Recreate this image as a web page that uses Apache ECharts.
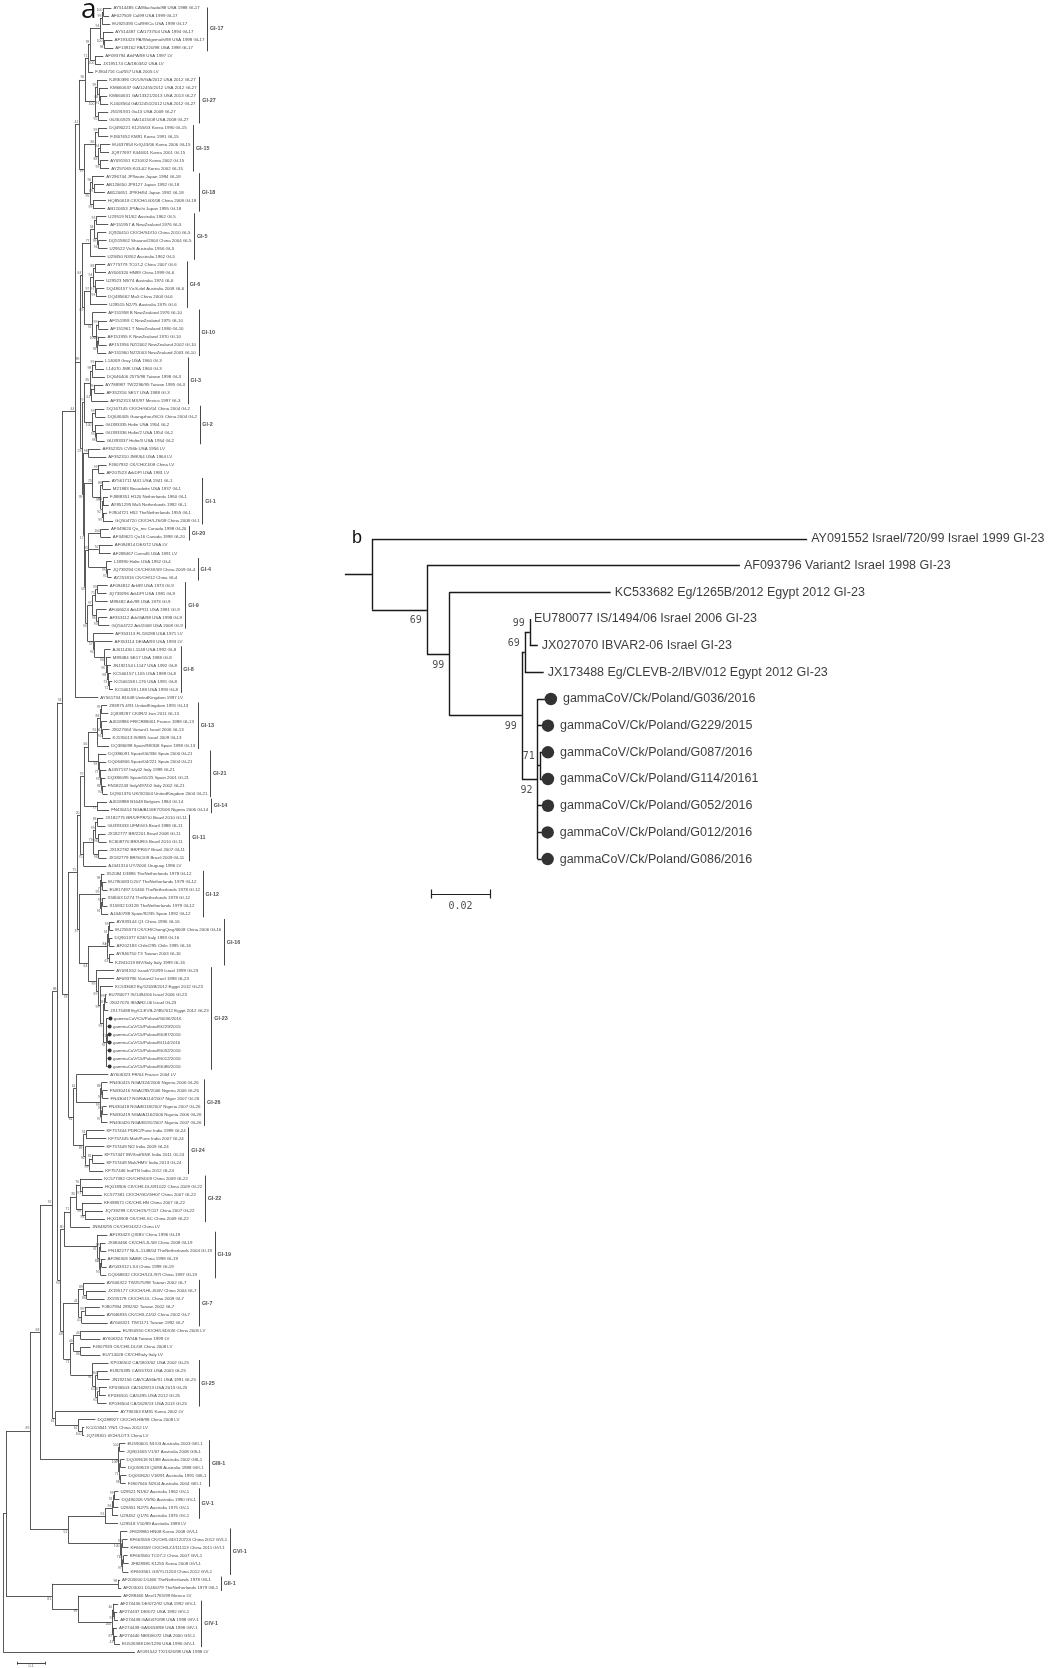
<!DOCTYPE html>
<html><head><meta charset="utf-8">
<script src="https://cdn.jsdelivr.net/npm/echarts@6/dist/echarts.min.js"></script>
<style>html,body{margin:0;padding:0;background:#fff}#c{width:1050px;height:1668px}</style>
</head><body><div id="c"></div>
<script>
// ---------------- DATA : panel a ----------------
const leafLabelsA = [
'AY514485 CA/Machado/88 USA 1988 GI-17','AF027509 Cal99 USA 1999 GI-17','EU925393 Cal/99/Ca USA 1999 GI-17','AY514487 CA/1737/04 USA 1994 GI-17','AF193423 PA/Wolgemuth/98 USA 1998 GI-17','AF139162 PA/1220/98 USA 1998 GI-17',
'AF093794 ArkPA/98 USA 1997 LV','JX195174 CA/1803/02 USA LV','FJ904716 Cal/557 USA 2005 LV',
'KJ830396 CK/US/GA/2012 USA 2012 GI-27','KM660637 GA/12455/2012 USA 2012 GI-27','KM660631 GA/13321/2013 USA 2013 GI-27','KJ403564 GA/12451/2012 USA 2012 GI-27','JN191931 Ga13 USA 2009 GI-27','GU301925 GA/1015/08 USA 2008 GI-27',
'DQ490221 K1255/03 Korea 1990 GI-15','FJ807652 KM91 Korea 1991 GI-15','EU637854 Kr/Q43/06 Korea 2006 GI-15','JQ977697 K446/01 Korea 2001 GI-15','AY091551 K210/02 Korea 2002 GI-15','AY257065 K03-02 Korea 2002 GI-15',
'AY296744 JP/Iwate Japan 1994 GI-18','AB120650 JP8127 Japan 1992 GI-18','AB120651 JP/KH/64 Japan 1992 GI-18','HQ850618 CK/CH/LGX/08 China 2008 GI-18','AB120653 JP/Aichi Japan 1995 GI-18',
'U29519 N1/62 Australia 1962 GI-5','AF151957 A NewZealand 1976 GI-5','JQ920410 CK/CH/SD/10 China 2010 GI-5','DQ515802 Shaanxi/2004 China 2004 GI-5','U29522 VicS Australia 1956 GI-5','U29450 N3/62 Australia 1962 GI-5',
'AY775779 TC07-2 China 2007 GI-6','AY606320 HN99 China 1999 GI-6','U29523 N9/74 Australia 1974 GI-6','DQ480157 VicS-del Australia 2008 GI-6','DQ485662 Ma5 China 2004 GI-6','U29515 N2/75 Australia 1975 GI-6',
'AF151958 B NewZealand 1976 GI-10','AF151959 C NewZealand 1975 GI-10','AF151961 T NewZealand 1980 GI-10','AF151955 K NewZealand 1970 GI-10','AF151956 NZ/2002 NewZealand 2002 GI-10','AF151960 NZ/2003 NewZealand 2003 GI-10',
'L14069 Gray USA 1960 GI-3','L14070 JMK USA 1964 GI-3','DQ646406 2575/98 Taiwan 1998 GI-3','AY788987 TW2296/95 Taiwan 1995 GI-3','AF352316 SE17 USA 1988 GI-3','AF352313 MX/97 Mexico 1997 GI-3',
'DQ167145 CK/CH/GD/04 China 2004 GI-2','DQ646405 Guangzhou/SCG China 2004 GI-2','GU393335 Holte USA 1954 GI-2','GU393336 Holte/2 USA 1954 GI-2','GU393337 Holte/3 USA 1954 GI-2',
'AF352315 CV56b USA 1956 LV','AF352310 JMK/64 USA 1964 LV','FJ807932 CK/CH/ZJ/08 China LV','AF207523 ArkDPI USA 1981 LV',
'AY561711 M41 USA 1941 GI-1','M21883 Beaudette USA 1937 GI-1','FJ888351 H120 Netherlands 1960 GI-1','AY851295 Ma5 Netherlands 1992 GI-1','FJ904721 H52 TheNetherlands 1955 GI-1','GQ504720 CK/CH/LJS/08 China 2008 GI-1',
'AF349620 Qu_mv Canada 1998 GI-20','AF349621 Qu16 Canada 1998 GI-20','AF094814 DE/072 USA LV','AF288467 Conn46 USA 1991 LV',
'L18990 Holte USA 1952 GI-4','JQ739294 CK/CH/GX/09 China 2009 GI-4','AY251816 CK/CH/12 China GI-4',
'AF094812 Ark99 USA 1973 GI-9','JQ739296 ArkDPI USA 1981 GI-9','M99482 Ark/99 USA 1973 GI-9','AF006624 ArkDPI11 USA 1981 GI-9','AF353112 Ark/GA/98 USA 1998 GI-9','GQ504722 Ark/2008 USA 2008 GI-9',
'AF353113 FL/18288 USA 1971 LV','AF353114 DE/AA/93 USA 1993 LV',
'AJ011430 L1148 USA 1992 GI-8','M99484 SE17 USA 1988 GI-8','JN192154 L1147 USA 1992 GI-8','KC506157 L165 USA 1989 GI-8','KC506158 L176 USA 1991 GI-8','KC506159 L188 USA 1993 GI-8',
'AY561734 B1648 UnitedKingdom 1997 LV',
'Z83975 4/91 UnitedKingdom 1991 GI-13','JQ839287 CK/IR/2 Iran 2011 GI-13','AJ618986 FR/CR88061 France 1988 GI-13','JX027064 Variant1 Israel 2006 GI-13','KJ135013 IS/885 Israel 2009 GI-13','DQ386098 Spain/98/308 Spain 1998 GI-13',
'DQ386091 Spain/00/336 Spain 2000 GI-21','DQ064806 Spain/04/221 Spain 2004 GI-21','AJ457137 Italy02 Italy 1999 GI-21','DQ386095 Spain/01/25 Spain 2001 GI-21','FN182243 Italy/497/02 Italy 2002 GI-21','DQ901376 UK/3/2004 UnitedKingdom 2004 GI-21',
'AJ618988 B1648 Belgium 1984 GI-14','FN430414 NGA/A116E7/2006 Nigeria 2006 GI-14',
'JX182775 BR/UFPR/10 Brazil 2010 GI-11','GU393333 UFMG/G Brazil 1988 GI-11','JX182777 BR/2201 Brazil 2008 GI-11','KC808770 BR/URG Brazil 2010 GI-11','JX182782 BR/PR/07 Brazil 2007 GI-11','JX182779 BR/SC/09 Brazil 2009 GI-11',
'AJ441310 UY/2006 Uruguay 1996 LV',
'X52084 D3896 TheNetherlands 1978 GI-12','EU780083 D207 TheNetherlands 1979 GI-12','EU817497 D1466 TheNetherlands 1978 GI-12','X58003 D274 TheNetherlands 1978 GI-12','X15832 D3128 TheNetherlands 1979 GI-12','AJ440788 Spain/92/35 Spain 1992 GI-12',
'AY839144 Q1 China 1996 GI-16','EU255573 CK/CH/ChongQing/0608 China 2006 GI-16','DQ901377 624/I Italy 1993 GI-16','AF202183 Chile/295 Chile 1995 GI-16','AY846750 T3 Taiwan 2003 GI-16','KJ941019 IBV/Italy Italy 1999 GI-16',
'AY091552 Israel/720/99 Israel 1999 GI-23','AF093796 Variant2 Israel 1998 GI-23','KC533682 Eg/1265B/2012 Egypt 2012 GI-23','EU780077 IS/1494/06 Israel 2006 GI-23','JX027070 IBVAR2-06 Israel GI-23','JX173488 Eg/CLEVB-2/IBV/012 Egypt 2012 GI-23',
'gammaCoV/Ck/Poland/G036/2016','gammaCoV/Ck/Poland/G229/2015','gammaCoV/Ck/Poland/G087/2016','gammaCoV/Ck/Poland/G114/2016','gammaCoV/Ck/Poland/G052/2016','gammaCoV/Ck/Poland/G012/2016','gammaCoV/Ck/Poland/G086/2016',
'AY606323 FR/04 France 2004 LV',
'FN430415 NGA/324/2006 Nigeria 2006 GI-26','FN430416 NGA/295/2006 Nigeria 2006 GI-26','FN430417 NGR/A114/2007 Niger 2007 GI-26','FN430418 NGA/B118/2007 Nigeria 2007 GI-26','FN430419 NGA/A116/2006 Nigeria 2006 GI-26','FN430420 NGA/B191/2007 Nigeria 2007 GI-26',
'KF757444 PDRC/Pune India 1999 GI-24','KF757445 Mah/Pune India 2007 GI-24','KF757449 N/2 India 2009 GI-24','KF757447 IBV/Ind/SNK India 2011 GI-24','KF757448 Mah/HMV India 2013 GI-24','KF757446 Ind/TN India 2012 GI-24',
'KC577382 CK/CH/SD09 China 2009 GI-22','HQ018906 CK/CH/LDL/091022 China 2009 GI-22','KC577381 CK/CH/GD/GH07 China 2007 GI-22','KF498571 CK/CH/LHN China 2007 GI-22','JQ739299 CK/CH/JS/TC07 China 2007 GI-22','HQ018908 CK/CH/LSC China 2009 GI-22',
'JN848295 CK/CH/GD/ZJ China LV',
'AF193423 QXIBV China 1996 GI-19','JX084466 CK/CH/LJL/08 China 2008 GI-19','FN182277 NL/L-1148/04 TheNetherlands 2004 GI-19','AF286303 SAIBK China 1998 GI-19','AY043312 LX4 China 1999 GI-19','DQ068832 CK/CH/LDL/97I China 1997 GI-19',
'AY606322 TW2575/98 Taiwan 2002 GI-7','JX195177 CK/CH/LHLJ/04V China 2004 GI-7','JX195178 CK/CH/LDL China 2009 GI-7','FJ807934 2992/02 Taiwan 2002 GI-7','AY846835 CK/CH/LZJ/02 China 2002 GI-7','AY606321 TW/1171 Taiwan 1992 GI-7',
'EU350550 CK/CH/LSD/05I China 2005 LV','AY606324 TW/4A Taiwan 1999 LV','FJ807933 CK/CH/LDL/08 China 2008 LV','EU714028 CK/CH/Italy Italy LV',
'KP036502 CA/1803/02 USA 2002 GI-25','EU925395 CA/557/03 USA 2003 GI-25','JN192156 CAV/CA56b/91 USA 1991 GI-25','KP036503 CA/1628/13 USA 2013 GI-25','KP036501 CA/1495 USA 2012 GI-25','KP036504 CA/1628/13 USA 2013 GI-25',
'AY790363 KM91 Korea 2002 LV','DQ288927 CK/CH/LHB/98 China 2008 LV','KC013541 YN/1 China 2012 LV','JQ739301 tl/CH/LDT3 China LV',
'EU590601 N1/03 Australia 2003 GIII-1','JQ801665 V1/07 Australia 2008 GIII-1','DQ059618 N1/88 Australia 2002 GIII-1','DQ059619 Q3/88 Australia 1988 GIII-1','DQ059620 V18/91 Australia 1991 GIII-1','FJ807640 N2/04 Australia 2004 GIII-1',
'U29521 N1/62 Australia 1962 GV-1','DQ490205 V5/90 Australia 1990 GV-1','U29451 N2/75 Australia 1975 GV-1','U29452 Q1/76 Australia 1976 GV-1','U29518 V10/89 Australia 1989 LV',
'JF828980 HN08 Korea 2008 GVI-1','KF663558 CK/CH/LGD/120724 China 2012 GVI-1','KF663559 CK/CH/LZJ/111113 China 2011 GVI-1','KF663560 TC07-2 China 2007 GVI-1','JF828981 K1255 Korea 2008 GVI-1','KF663561 GX/YL/1203 China 2012 GVI-1',
'AF203000 D1466 TheNetherlands 1978 GII-1','AF203001 D1466/79 TheNetherlands 1979 GII-1','AF288466 Mex/1765/99 Mexico LV',
'AF274436 DE/072/92 USA 1992 GIV-1','AF274437 DE/072 USA 1992 GIV-1','AF274438 GA/0470/98 USA 1998 GIV-1','AF274439 GA/0658/98 USA 1998 GIV-1','AF274440 NE/DE072 USA 2000 GIV-1','EU526388 DE/1290 USA 1996 GIV-1',
'AY091542 TX/1326/98 USA 1998 LV'
];
const cladeNames = ['GI-17','GI-27','GI-15','GI-18','GI-5','GI-6','GI-10','GI-3','GI-2','GI-1','GI-20','GI-4','GI-9','GI-8','GI-13','GI-21','GI-14','GI-11','GI-12','GI-16','GI-23','GI-26','GI-24','GI-22','GI-19','GI-7','GI-25','GIII-1','GV-1','GVI-1','GII-1','GIV-1'];
const cladeFirst = [1,10,16,22,27,33,39,45,51,60,66,70,73,81,88,94,100,102,109,115,121,135,141,147,154,160,170,180,186,191,197,200];
const cladeLast  = [6,15,21,26,32,38,44,50,55,65,67,72,78,86,93,99,101,107,114,120,133,140,146,152,159,165,175,185,189,196,198,205];

// clade subtrees (Newick, leaf numbers refer to leafLabelsA, substitutions/site)
const GI17 = "(((1:0.029,2:0.021)100:0.004,3:0.029)99:0.007,(4:0.036,(5:0.029,6:0.032)98:0.004)100:0.011)";
const GI27 = "((10:0.036,(11:0.032,(12:0.025,13:0.029)91:0.004)88:0.007)99:0.007,(14:0.036,15:0.032)95:0.011)";
const GI15 = "((16:0.032,17:0.036)99:0.011,((18:0.036,19:0.032)94:0.007,(20:0.029,21:0.032)99:0.007)88:0.011)";
const GI18 = "((22:0.043,(23:0.036,24:0.039)89:0.007)96:0.007,(25:0.046,26:0.043)99:0.011)";
const GI5  = "(((27:0.036,28:0.043)93:0.007,(29:0.032,(30:0.029,31:0.032)96:0.004)99:0.011)94:0.014,32:0.054)";
const GI6  = "(((33:0.036,34:0.039)88:0.007,(35:0.032,(36:0.029,37:0.036)99:0.004)97:0.007)94:0.011,38:0.061)";
const GI10 = "(39:0.05,((40:0.032,41:0.036)99:0.007,((42:0.025,43:0.029)98:0.004,44:0.032)96:0.004)100:0.014)";
const GI3  = "(((45:0.029,46:0.032)99:0.011,47:0.046)98:0.007,((48:0.032,49:0.036)99:0.011,50:0.061)61:0.004)";
const GI2  = "((51:0.032,52:0.036)99:0.011,(53:0.029,(54:0.025,55:0.029)98:0.004)95:0.011)";
const GI1  = "((60:0.025,61:0.029)88:0.007,((62:0.018,63:0.021)96:0.004,(64:0.014,65:0.036)99:0.004)92:0.004)";
const GI20 = "(66:0.029,67:0.036)";
const GI4  = "(70:0.018,(71:0.011,72:0.014)91:0.004)";
const GI9  = "(((73:0.036,74:0.032)99:0.007,75:0.043)71:0.011,(76:0.036,(77:0.032,78:0.039)93:0.007)96:0.014)";
const GI8  = "(81:0.021,(82:0.018,(83:0.014,(84:0.011,(85:0.011,86:0.014)72:0.004)73:0.004)98:0.004)96:0.004)";
const GI13 = "(((88:0.021,89:0.025)99:0.004,(90:0.021,(91:0.025,92:0.029)95:0.004)66:0.004)88:0.011,93:0.043)";
const GI21 = "(94:0.029,(95:0.025,(96:0.021,(97:0.014,(98:0.011,99:0.018)94:0.004)88:0.004)95:0.004)77:0.004)";
const GI14 = "(100:0.036,101:0.043)";
const GI11 = "(((102:0.021,103:0.029)83:0.007,(104:0.025,105:0.029)96:0.011)99:0.007,(106:0.032,107:0.029)96:0.018)";
const GI12 = "((109:0.011,(110:0.014,111:0.018)74:0.004)98:0.004,((112:0.011,113:0.018)99:0.004,114:0.025)91:0.004)";
const GI16 = "(((115:0.018,116:0.014)99:0.004,(117:0.011,118:0.018)74:0.004)91:0.004,(119:0.018,120:0.014)63:0.007)";
const GI23 = "(121:0.064,(122:0.057,(123:0.046,(((124:0.004,125:0.007)99:0.004,126:0.014)69:0.004,(127:0.007,128:0.004,(129:0.002,130:0.002)71:0.002,131:0.004,132:0.004,133:0.004)92:0.011)99:0.011)99:0.007)69:0.007)";
const GI26 = "((135:0.021,(136:0.018,137:0.021)99:0.004)88:0.004,((138:0.014,139:0.018)94:0.004,140:0.021)97:0.004)";
const GI24 = "((141:0.064,142:0.071)91:0.011,(143:0.068,((144:0.036,145:0.043)81:0.011,146:0.05)99:0.014)96:0.007)";
const GI22 = "((147:0.079,(148:0.075,149:0.071)91:0.007)76:0.014,(150:0.071,(151:0.064,152:0.071)95:0.011)98:0.021)";
const GI19 = "(154:0.036,((155:0.018,156:0.021)99:0.004,((157:0.014,158:0.018)47:0.004,159:0.021)93:0.004)82:0.007)";
const GI7  = "((160:0.075,(161:0.068,162:0.064)86:0.011)89:0.018,((163:0.054,164:0.071)99:0.011,165:0.093)41:0.011)";
const GI25 = "(170:0.057,((171:0.036,172:0.043)84:0.007,((173:0.029,174:0.025)78:0.004,175:0.032)91:0.007)61:0.011)";
const GIII1 = "((180:0.021,181:0.018)100:0.004,((182:0.014,183:0.018)94:0.004,(184:0.021,185:0.018)98:0.004)71:0.004)";
const GV1  = "(((186:0.014,187:0.018)99:0.004,188:0.018)91:0.004,189:0.021)";
const GVI1 = "(191:0.025,((192:0.018,193:0.021)98:0.004,((194:0.014,195:0.018)41:0.004,196:0.021)97:0.004)77:0.004)";
const GII1 = "(197:0.007,198:0.011)";
const GIV1 = "((200:0.018,(201:0.011,202:0.014)93:0.004)40:0.004,(203:0.014,(204:0.011,205:0.021)43:0.004)87:0.004)";

// backbone
const UA2 = `((((${GI17}94:0.036,(7:0.029,8:0.021)100:0.018)78:0.007,9:0.018)71:0.011,${GI27}100:0.036)96:0.021,(${GI15}86:0.039,${GI18}95:0.021)39:0.018)`;
const UA3 = `((${GI5}77:0.029,(${GI6}97:0.021,${GI10}92:0.029)89:0.007)84:0.007,((${GI3}85:0.021,${GI2}100:0.029)79:0.007,((56:0.043,57:0.064)98:0.018,(((58:0.029,59:0.021)99:0.021,${GI1}99:0.029)75:0.029,((${GI20}100:0.043,(68:0.05,69:0.043)74:0.036,${GI4}99:0.064)85:0.011,(${GI9}97:0.018,(79:0.071,(80:0.064,${GI8}96:0.036)94:0.004)57:0.021)94:0.007)55:0.004)17:0.004)39:0.004)29:0.007)`;
const UA1 = `(${UA2}41:0.014,${UA3}89:0.018,87:0.082)44`;
const UB1 = `((((${GI13}91:0.032,${GI21}98:0.036)66:0.014,${GI14}77:0.046)79:0.014,(${GI11}79:0.036,108:0.082)75:0.011)20:0.011,(${GI12}99:0.075,(${GI16}84:0.068,${GI23}99:0.029)64:0.032)37:0.007)`;
const UB = `(${UB1}75:0.032,((134:0.114,${GI26}99:0.086)61:0.011,${GI24}89:0.036)61:0.018)78`;
const UPPER = `(${UA1}:0.046,${UB}:0.021)53`;
const LOWER = `(((${GI22}85:0.021,153:0.071)71:0.021,${GI19}91:0.118)80:0.014,(${GI7}41:0.054,(((166:0.143,167:0.071)44:0.025,(168:0.036,169:0.071)86:0.025)44:0.011,${GI25}91:0.079)71:0.025)48:0.011)93`;
const GIALL = `(${UPPER}:0.018,${LOWER}:0.011)88`;
const LVB = `(176:0.225,(177:0.061,(178:0.007,179:0.007)100:0.014)61:0.082)61`;
const MAIN = `(${GIALL}:0.018,${LVB}:0.011)92`;
const N4 = `(${MAIN}:0.043,${GIII1}100:0.279)68`;
const N5 = `((${GV1}96:0.025,190:0.046)91:0.132,${GVI1}100:0.186)51`;
const N3 = `(${N4}:0.036,${N5}:0.136)89`;
const GIIGIV = `(${GII1}98:0.236,(199:0.154,${GIV1}100:0.121)99:0.093)81`;
const N1 = `(${N3}:0.086,${GIIGIV}:0.164)`;
const treeA = `(${N1}:0.011,206:0.471)`;
const scaleBarA = 0.1;

// ---------------- DATA : panel b ----------------
const leafLabelsB = ['AY091552 Israel/720/99 Israel 1999 GI-23','AF093796 Variant2 Israel 1998 GI-23','KC533682 Eg/1265B/2012 Egypt 2012 GI-23','EU780077 IS/1494/06 Israel 2006 GI-23','JX027070 IBVAR2-06 Israel GI-23','JX173488 Eg/CLEVB-2/IBV/012 Egypt 2012 GI-23','gammaCoV/Ck/Poland/G036/2016','gammaCoV/Ck/Poland/G229/2015','gammaCoV/Ck/Poland/G087/2016','gammaCoV/Ck/Poland/G114/20161','gammaCoV/Ck/Poland/G052/2016','gammaCoV/Ck/Poland/G012/2016','gammaCoV/Ck/Poland/G086/2016'];
const treeB = "(1:0.1475,(2:0.1061,(3:0.0547,(((4:0,5:0.0027)99:0.0017,6:0.0064)69:0.001,(7:0.0025,8:0.0015,(9:0.0007,10:0.0007)71:0.0008,11:0.0015,12:0.0014,13:0.0014)92:0.0053)99:0.0246)99:0.0076)69:0.0186):0.0092";
const scaleBarB = 0.02;

// ---------------- helpers ----------------
function parseNewick(str) {
  const s = str.replace(/\s+/g, '');
  let i = 0;
  function node() {
    const n = {children: [], name: '', len: 0};
    if (s[i] === '(') {
      i++;
      n.children.push(node());
      while (s[i] === ',') { i++; n.children.push(node()); }
      i++;
    }
    let nm = '';
    while (i < s.length && !',():;'.includes(s[i])) nm += s[i++];
    n.name = nm;
    if (s[i] === ':') {
      i++; let num = '';
      while (i < s.length && !',();'.includes(s[i])) num += s[i++];
      n.len = parseFloat(num);
    }
    return n;
  }
  return node();
}
function layout(root) {
  const nodes = []; let leaf = 0;
  (function walk(n, p) {
    n.parent = p; n.x = p ? p.x + n.len : 0; nodes.push(n);
    if (n.children.length) {
      n.children.forEach(c => walk(c, n));
      n.y = (n.children[0].y + n.children[n.children.length - 1].y) / 2;
    } else n.y = leaf++;
  })(root, null);
  return nodes;
}
function segments(nodes) {
  const out = [];
  nodes.forEach(n => {
    if (n.parent) out.push({coords: [[n.parent.x, n.y], [n.x, n.y]]});
    else if (n.len) out.push({coords: [[-n.len, n.y], [0, n.y]]});
    if (n.children.length) out.push({coords: [[n.x, n.children[0].y], [n.x, n.children[n.children.length - 1].y]]});
  });
  return out;
}
function isLastChild(n) { return !n.parent || n.parent.children[n.parent.children.length - 1] === n; }

const mctx = document.createElement('canvas').getContext('2d');
function hasFont(f) {
  const probe = 'abcdefghijklmnopqrstuvwxyz0123456789/';
  mctx.font = '20px monospace'; const a = mctx.measureText(probe).width;
  mctx.font = '20px "' + f + '", monospace'; return Math.abs(mctx.measureText(probe).width - a) > 0.5;
}
const NARROW = hasFont('Liberation Sans Narrow');
const FONT = NARROW ? "'Liberation Sans Narrow',sans-serif" : "'Liberation Sans',Arial,sans-serif";
const MONO = "'DejaVu Sans Mono',monospace";
function textW(t, size, weight) { mctx.font = (weight || 'normal') + ' ' + size + 'px ' + FONT; return mctx.measureText(t).width; }

const nodesA = layout(parseNewick(treeA));
const nodesB = layout(parseNewick(treeB));
const leavesA = nodesA.filter(n => !n.children.length);
const leavesB = nodesB.filter(n => !n.children.length);
const isPoland = t => t.indexOf('gammaCoV') === 0;

const A_LEAF_FS = NARROW ? 4.9 : 4.4, A_BS_FS = 3.4, A_CL_FS = NARROW ? 6 : 5.4;
const A_GAP = 2, A_GAP_DOT = 5.5;
const B_FS = NARROW ? 13.5 : 12.5;

const chart = echarts.init(document.getElementById('c'));
const nA = leavesA.length;

const base = {
  animation: false,
  backgroundColor: '#fff',
  grid: [
    {left: 0, top: 8, width: 320, height: 1660.1},
    {left: 320, top: 539, width: 700, height: 373.4}
  ],
  xAxis: [
    {gridIndex: 0, type: 'value', min: -0.0107, max: -0.0107 + 320 / 280, show: false},
    {gridIndex: 1, type: 'value', min: -0.01763, max: -0.01763 + 700 / 2950, show: false}
  ],
  yAxis: [
    {gridIndex: 0, type: 'value', min: 0, max: nA + 1, inverse: true, show: false},
    {gridIndex: 1, type: 'value', min: 0, max: 14, inverse: true, show: false}
  ],
  graphic: [
    {type: 'text', left: 81, top: -4, style: {text: 'a', font: '28px "Open Sans", sans-serif', fill: '#111'}},
    {type: 'text', left: 352, top: 529, style: {text: 'b', font: '18px "Liberation Sans", Arial, sans-serif', fill: '#111'}}
  ],
  series: []
};

const S = base.series;
// ---- panel a
S.push({type: 'lines', coordinateSystem: 'cartesian2d', xAxisIndex: 0, yAxisIndex: 0, silent: true,
  lineStyle: {color: '#3c3c3c', width: 0.85, opacity: 1}, data: segments(nodesA)});
S.push({type: 'scatter', xAxisIndex: 0, yAxisIndex: 0, silent: true, symbolSize: 0.1, itemStyle: {color: 'transparent'},
  label: {show: true, position: 'right', formatter: '{b}', fontSize: A_LEAF_FS, fontFamily: FONT, color: '#111'},
  data: leavesA.map(n => { const t = leafLabelsA[+n.name - 1]; return {name: t, value: [n.x, n.y], label: {distance: isPoland(t) ? A_GAP_DOT : A_GAP}}; })});
S.push({type: 'scatter', xAxisIndex: 0, yAxisIndex: 0, silent: true, symbol: 'circle', symbolSize: 4, symbolOffset: [2.2, 0], itemStyle: {color: '#000'},
  data: leavesA.filter(n => isPoland(leafLabelsA[+n.name - 1])).map(n => [n.x, n.y])});
const bsA = nodesA.filter(n => n.children.length && n.name);
S.push({type: 'scatter', xAxisIndex: 0, yAxisIndex: 0, silent: true, symbolSize: 0.1, itemStyle: {color: 'transparent'},
  label: {show: true, position: 'left', distance: 0.8, formatter: '{b}', fontSize: A_BS_FS, fontFamily: FONT, color: '#333'},
  data: bsA.map(n => ({name: n.name, value: [n.x, n.y], label: {offset: [0, isLastChild(n) ? 2.6 : -2.4]}}))});

// ---- panel b
S.push({type: 'lines', coordinateSystem: 'cartesian2d', xAxisIndex: 1, yAxisIndex: 1, silent: true,
  lineStyle: {color: '#1a1a1a', width: 1.4, opacity: 1}, data: segments(nodesB)});
S.push({type: 'scatter', xAxisIndex: 1, yAxisIndex: 1, silent: true, symbolSize: 0.1, itemStyle: {color: 'transparent'},
  label: {show: true, position: 'right', formatter: '{b}', fontSize: B_FS, fontFamily: FONT, color: '#0a0a0a'},
  data: leavesB.map(n => { const t = leafLabelsB[+n.name - 1]; return {name: t, value: [n.x, n.y], label: {distance: isPoland(t) ? 18 : 4}}; })});
S.push({type: 'scatter', xAxisIndex: 1, yAxisIndex: 1, silent: true, symbol: 'circle', symbolSize: 12.5, symbolOffset: [6, 0], itemStyle: {color: '#000'},
  data: leavesB.filter(n => isPoland(leafLabelsB[+n.name - 1])).map(n => [n.x, n.y])});
const bsB = nodesB.filter(n => n.children.length && n.name);
S.push({type: 'scatter', xAxisIndex: 1, yAxisIndex: 1, silent: true, symbolSize: 0.1, itemStyle: {color: 'transparent'},
  label: {show: true, position: 'left', distance: 5, formatter: '{b}', fontSize: 10, fontFamily: MONO, color: '#222'},
  data: bsB.map(n => ({name: n.name, value: [n.x, n.y], label: {offset: [0, isLastChild(n) ? 11 : -9]}}))});
// scale bar b
const sbBx = 0.020, sbBy = 13.31;
S.push({type: 'lines', coordinateSystem: 'cartesian2d', xAxisIndex: 1, yAxisIndex: 1, silent: true,
  lineStyle: {color: '#222', width: 1.2, opacity: 1},
  data: [{coords: [[sbBx, sbBy], [sbBx + scaleBarB, sbBy]]}, {coords: [[sbBx, sbBy - 0.17], [sbBx, sbBy + 0.17]]}, {coords: [[sbBx + scaleBarB, sbBy - 0.17], [sbBx + scaleBarB, sbBy + 0.17]]}]});
S.push({type: 'scatter', xAxisIndex: 1, yAxisIndex: 1, silent: true, symbolSize: 0.1, itemStyle: {color: 'transparent'},
  label: {show: true, position: 'bottom', distance: 7, formatter: '{b}', fontSize: 10, fontFamily: MONO, color: '#222'},
  data: [{name: String(scaleBarB), value: [sbBx + scaleBarB / 2, sbBy]}]});
// scale bar a
const sbAx = 0.05, sbAy = nA + 0.4;
S.push({type: 'lines', coordinateSystem: 'cartesian2d', xAxisIndex: 0, yAxisIndex: 0, silent: true,
  lineStyle: {color: '#333', width: 0.9, opacity: 1},
  data: [{coords: [[sbAx, sbAy], [sbAx + scaleBarA, sbAy]]}, {coords: [[sbAx, sbAy - 0.18], [sbAx, sbAy + 0.18]]}, {coords: [[sbAx + scaleBarA, sbAy - 0.18], [sbAx + scaleBarA, sbAy + 0.18]]}]});
S.push({type: 'scatter', xAxisIndex: 0, yAxisIndex: 0, silent: true, symbolSize: 0.1, itemStyle: {color: 'transparent'},
  label: {show: true, position: 'bottom', distance: 0.5, formatter: '{b}', fontSize: 3.6, fontFamily: FONT, color: '#333'},
  data: [{name: String(scaleBarA), value: [sbAx + scaleBarA / 2, sbAy]}]});

chart.setOption(base);

// ---- clade bars (placed after the longest label of each clade)
const byNum = {};
leavesA.forEach(n => { byNum[+n.name] = n; });
const barSegs = [], barLabels = [];
cladeNames.forEach((nm, k) => {
  let maxPx = 0;
  for (let j = cladeFirst[k]; j <= cladeLast[k]; j++) {
    const n = byNum[j]; const t = leafLabelsA[j - 1];
    const px = chart.convertToPixel({gridIndex: 0}, [n.x, n.y])[0] + (isPoland(t) ? A_GAP_DOT : A_GAP) + textW(t, A_LEAF_FS);
    if (px > maxPx) maxPx = px;
  }
  const bx = chart.convertFromPixel({gridIndex: 0}, [maxPx + 3, 0])[0];
  const y0 = byNum[cladeFirst[k]].y - 0.4, y1 = byNum[cladeLast[k]].y + 0.4;
  barSegs.push({coords: [[bx, y0], [bx, y1]]});
  barLabels.push({name: nm, value: [bx, (y0 + y1) / 2]});
});
S.push({type: 'lines', coordinateSystem: 'cartesian2d', xAxisIndex: 0, yAxisIndex: 0, silent: true,
  lineStyle: {color: '#333', width: 0.9, opacity: 1}, data: barSegs});
S.push({type: 'scatter', xAxisIndex: 0, yAxisIndex: 0, silent: true, symbolSize: 0.1, itemStyle: {color: 'transparent'},
  label: {show: true, position: 'right', distance: 2.5, formatter: '{b}', fontSize: A_CL_FS, fontWeight: 'bold', fontFamily: FONT, color: '#222'},
  data: barLabels});
chart.setOption({series: S});
</script></body></html>
